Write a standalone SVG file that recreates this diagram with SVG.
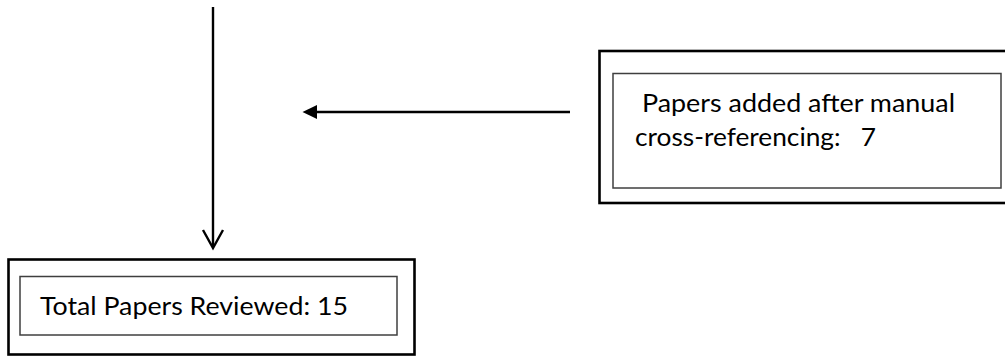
<svg xmlns="http://www.w3.org/2000/svg" width="1005" height="356" viewBox="0 0 1005 356">
  <defs>
    <style>
      .outer { fill: none; stroke: #000; stroke-width: 2.6; }
      .inner { fill: none; stroke: #3f3f3f; stroke-width: 1.5; }
      .lbl { font-family: Lato, "Open Sans", "Liberation Sans", sans-serif; font-size: 25px; fill: #000; white-space: pre; }
      .conn { stroke: #000; stroke-width: 2.4; fill: none; }
    </style>
  </defs>
  <rect width="1005" height="356" fill="#fff"/>
  <g id="connectors">
    <line class="conn" x1="213" y1="7" x2="213" y2="247"/>
    <path class="conn" d="M203,230 L213,248 L223,230"/>
    <line class="conn" x1="570" y1="112" x2="314" y2="112"/>
    <path d="M302.5,112 L317,105 L317,119 Z" fill="#000"/>
  </g>
  <g id="node-total">
    <rect class="outer" x="8.5" y="259.5" width="406" height="95"/>
    <rect class="inner" x="20" y="276.5" width="377" height="58.5"/>
    <text class="lbl" x="40" y="315" textLength="308" lengthAdjust="spacingAndGlyphs">Total Papers Reviewed: 15</text>
  </g>
  <g id="node-added">
    <rect class="outer" x="599.5" y="51" width="420" height="152"/>
    <rect class="inner" x="613" y="73.5" width="388" height="114.5"/>
    <text class="lbl" x="642" y="111.7" textLength="313" lengthAdjust="spacingAndGlyphs">Papers added after manual</text>
    <text class="lbl" x="635" y="145.5" textLength="241" lengthAdjust="spacingAndGlyphs" xml:space="preserve">cross-referencing:   7</text>
  </g>
</svg>
